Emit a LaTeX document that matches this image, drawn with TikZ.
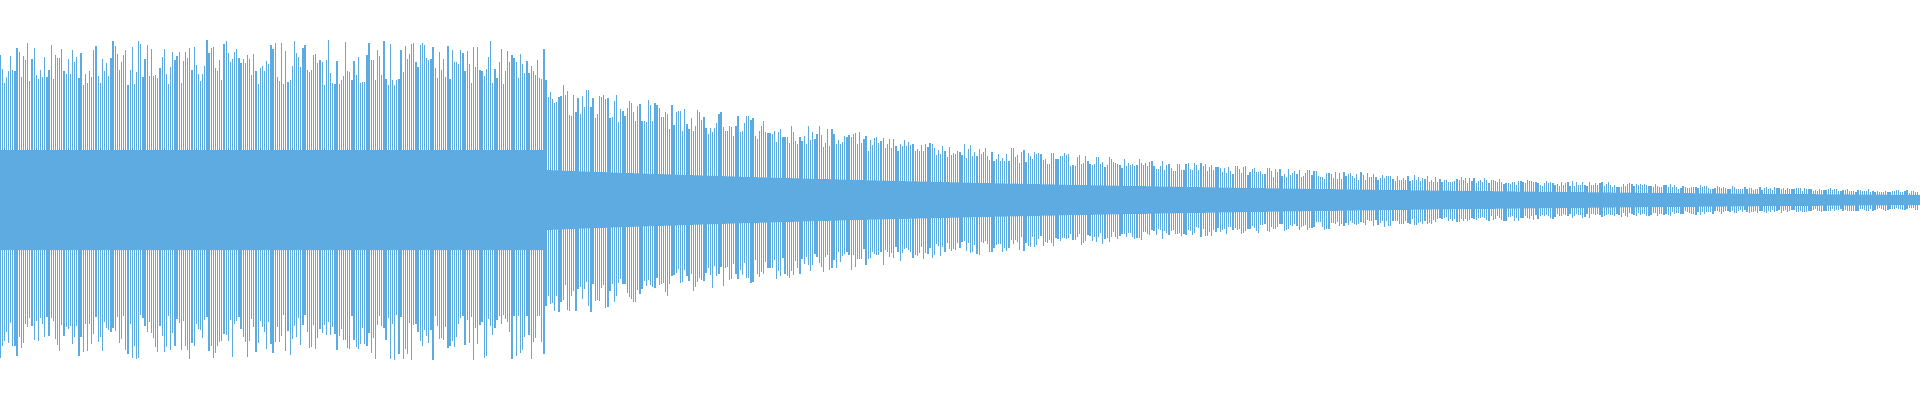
\documentclass[tikz,border=0pt]{standalone}
\definecolor{wave}{RGB}{94,171,226}
\begin{document}
\begin{tikzpicture}[wl/.style={draw=wave,line width=0.35pt}]
\useasboundingbox (0,0) rectangle (19.2,4);
\pgfmathsetseed{11}
\fill[wave] plot[domain=0:5.45,samples=20] (\x,{2+0.5}) -- (5.45,2.3)
  -- plot[domain=5.45:19.2,samples=40] (\x,{2+0.3*exp(-(\x-5.45)/7.7)})
  -- plot[domain=19.2:5.45,samples=40] (\x,{2-0.3*exp(-(\x-5.45)/7.7)})
  -- (5.45,1.7) -- plot[domain=5.45:0,samples=20] (\x,{2-0.5}) -- cycle;
\foreach \i in {0,...,899}{
  \pgfmathsetmacro\x{\i*0.02133}
  \pgfmathsetmacro\E{\x<5.45 ? 1.6 : 1.22*exp(-(\x-5.45)/5.5)}
  \pgfmathsetmacro\a{\E*(0.72+0.28*rnd)}
  \pgfmathsetmacro\b{\E*(0.72+0.28*rnd)}
  \draw[wl] (\x,{2-\b}) -- (\x,{2+\a});
}
\end{tikzpicture}
\end{document}
